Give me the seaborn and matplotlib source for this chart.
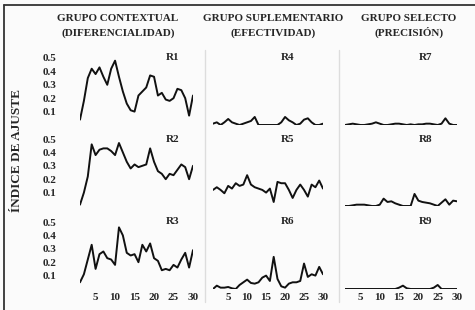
import numpy as np
import pandas as pd
import matplotlib
matplotlib.use('Agg')
import matplotlib.pyplot as plt
import seaborn as sns

# ensayos 1..30
ensayos = list(range(1, 31))

r1 = [0.04, 0.18, 0.35, 0.42, 0.38, 0.43, 0.36, 0.30, 0.42, 0.48,
      0.36, 0.25, 0.16, 0.11, 0.10, 0.22, 0.25, 0.28, 0.37, 0.36,
      0.22, 0.24, 0.19, 0.18, 0.20, 0.27, 0.26, 0.20, 0.07, 0.22]
r2 = [0.01, 0.10, 0.22, 0.46, 0.38, 0.42, 0.43, 0.43, 0.41, 0.38,
      0.47, 0.40, 0.33, 0.28, 0.31, 0.29, 0.30, 0.31, 0.43, 0.33,
      0.26, 0.24, 0.20, 0.24, 0.23, 0.27, 0.31, 0.29, 0.20, 0.30]
r3 = [0.05, 0.11, 0.22, 0.33, 0.15, 0.26, 0.28, 0.23, 0.22, 0.18,
      0.46, 0.40, 0.27, 0.25, 0.26, 0.20, 0.33, 0.28, 0.34, 0.23,
      0.21, 0.14, 0.15, 0.14, 0.18, 0.16, 0.22, 0.27, 0.16, 0.29]
r4 = [0.01, 0.02, 0.00, 0.02, 0.045, 0.02, 0.01, 0.00, 0.01, 0.02,
      0.03, 0.06, 0.00, 0.00, 0.00, 0.00, 0.00, 0.00, 0.02, 0.06,
      0.035, 0.02, 0.00, 0.01, 0.04, 0.05, 0.02, 0.00, 0.00, 0.01]
r5 = [0.12, 0.14, 0.12, 0.095, 0.15, 0.13, 0.17, 0.15, 0.16, 0.23,
      0.16, 0.14, 0.13, 0.12, 0.10, 0.13, 0.03, 0.18, 0.17, 0.17,
      0.12, 0.06, 0.12, 0.16, 0.12, 0.07, 0.16, 0.14, 0.19, 0.13]
r6 = [0.00, 0.025, 0.01, 0.01, 0.015, 0.005, 0.00, 0.03, 0.05, 0.07,
      0.045, 0.04, 0.05, 0.085, 0.10, 0.06, 0.24, 0.075, 0.02, 0.01,
      0.04, 0.05, 0.05, 0.06, 0.19, 0.09, 0.11, 0.10, 0.165, 0.11]
r7 = [0.00, 0.005, 0.01, 0.005, 0.00, 0.00, 0.005, 0.01, 0.02, 0.01,
      0.00, 0.00, 0.005, 0.01, 0.01, 0.005, 0.00, 0.005, 0.00, 0.005,
      0.005, 0.01, 0.01, 0.005, 0.00, 0.01, 0.05, 0.01, 0.00, 0.00]
r8 = [0.00, 0.00, 0.005, 0.01, 0.01, 0.01, 0.005, 0.00, 0.00, 0.01,
      0.055, 0.03, 0.035, 0.02, 0.01, 0.00, 0.00, 0.00, 0.09, 0.04,
      0.03, 0.025, 0.02, 0.01, 0.00, 0.025, 0.05, 0.01, 0.04, 0.035]
r9 = [0.00, 0.00, 0.00, 0.00, 0.00, 0.00, 0.00, 0.00, 0.00, 0.00,
      0.00, 0.00, 0.00, 0.00, 0.01, 0.025, 0.005, 0.00, 0.00, 0.00,
      0.00, 0.00, 0.00, 0.01, 0.03, 0.00, 0.00, 0.00, 0.00, 0.00]

paneles = ["R1", "R2", "R3", "R4", "R5", "R6", "R7", "R8", "R9"]
series = [r1, r2, r3, r4, r5, r6, r7, r8, r9]
grupos = ["GRUPO CONTEXTUAL", "GRUPO SUPLEMENTARIO", "GRUPO SELECTO"]
criterios = ["(DIFERENCIALIDAD)", "(EFECTIVIDAD)", "(PRECISIÓN)"]
y_ticks = [0.1, 0.2, 0.3, 0.4, 0.5]
x_ticks = [5, 10, 15, 20, 25, 30]
y_label = "ÍNDICE DE AJUSTE"

df = pd.DataFrame({
    "ensayo": ensayos * len(paneles),
    "indice": np.concatenate(series),
    "panel": np.repeat(paneles, len(ensayos)),
})

sns.set_style("white")
plt.rcParams['font.family'] = ['Liberation Serif', 'DejaVu Serif']
plt.rcParams['font.weight'] = 'bold'

W, H = 475, 310
fig = plt.figure(figsize=(W / 100, H / 100), dpi=100)
fig.patch.set_facecolor('#fbfbfb')

# pixel layout of the panels
col_x = [(80, 193), (213, 323), (345, 457)]
row_base = [125, 206, 289]   # y pixel of value 0
row_h = 67                   # pixels for 0..0.5
title_x = [0.82, 0.68, 0.72]
header_x = [118, 273, 409]

for i, panel in enumerate(paneles):
    c, r = divmod(i, 3)
    x0, x1 = col_x[c]
    base = row_base[r]
    ax = fig.add_axes([x0 / W, 1 - base / H, (x1 - x0) / W, row_h / H])
    ax.set_facecolor('none')
    sns.lineplot(data=df[df["panel"] == panel], x="ensayo", y="indice",
                 color='#111111', linewidth=1.4, ax=ax)
    ax.set_xlim(1, 30)
    ax.set_ylim(0, 0.5)
    for s in ax.spines.values():
        s.set_visible(False)
    ax.set_xlabel("")
    ax.set_ylabel("")
    if c == 0:
        ax.set_yticks(y_ticks)
        ax.set_yticklabels([f"{v:.1f}" for v in y_ticks])
        ax.tick_params(axis='y', length=0, pad=17, labelsize=8)
    else:
        ax.set_yticks([0])
        ax.set_yticklabels([])
        ax.tick_params(axis='y', length=3, width=0.8, color='#555555', direction='out')
    if r == 2:
        ax.set_xticks(x_ticks)
        ax.tick_params(axis='x', length=0, pad=3, labelsize=8)
    else:
        ax.set_xticks([])
    ax.text(title_x[c], 1.0, panel, transform=ax.transAxes, ha='center',
            va='center', fontsize=8, fontweight='bold')

for c in range(3):
    fig.text(header_x[c] / W, 1 - 21 / H, grupos[c], ha='center', va='baseline',
             fontsize=8, fontweight='bold')
    fig.text(header_x[c] / W, 1 - 36 / H, criterios[c], ha='center', va='baseline',
             fontsize=8, fontweight='bold')

fig.text(17 / W, 1 - 150 / H, y_label, rotation=90, ha='center', va='center',
         fontsize=9.5, fontweight='bold')

# faint column separators and the frame of the scanned figure
for xs in [205, 339]:
    fig.add_artist(plt.Line2D([xs / W, xs / W], [1 - 50 / H, 1 - 302 / H],
                              color='#dddddd', linewidth=1.0))
fig.add_artist(plt.Line2D([4 / W, 4 / W], [0, 1 - 5 / H], color='#333333', linewidth=1.3))
fig.add_artist(plt.Line2D([4 / W, 1], [1 - 5 / H, 1 - 5 / H], color='#333333', linewidth=1.3))

fig.savefig("out.png", dpi=100, facecolor=fig.get_facecolor())
